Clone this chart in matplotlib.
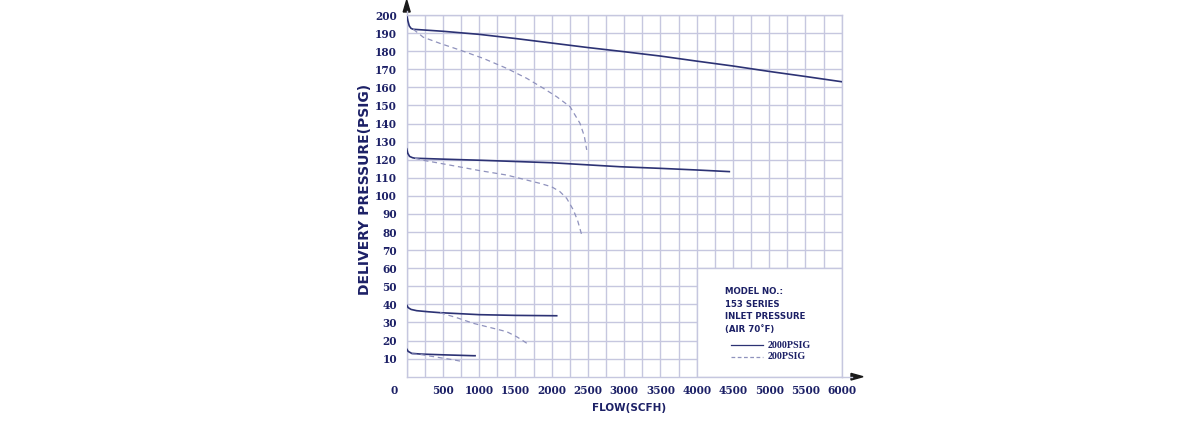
import numpy as np
import matplotlib
matplotlib.use("Agg")
import matplotlib.pyplot as plt
from matplotlib.patches import Polygon, Rectangle

# Data (flow in SCFH, delivery pressure in PSIG)
# solid = 2000 PSIG inlet, dashed = 200 PSIG inlet
s1_x = [0, 15, 35, 60, 91, 500, 1000, 1500, 2000, 2500, 3000, 3500, 4000, 4500, 5000, 5500, 6000]
s1_y = [200, 197, 194, 192.6, 192.1, 191, 189.3, 187, 184.5, 182, 179.7, 177.3, 174.5, 171.8, 168.8, 166, 163.1]
d1_x = [91, 229, 460, 735, 1057, 1379, 1655, 1885, 2069, 2253, 2390, 2450, 2483]
d1_y = [192.1, 187.7, 184.3, 180.6, 176, 170.5, 165, 159.5, 154.8, 149.3, 140.1, 133, 125.4]

s2_x = [0, 15, 40, 80, 114, 500, 1000, 2000, 2942, 3500, 4000, 4450]
s2_y = [126, 123.5, 121.8, 121.1, 120.8, 120.3, 119.7, 118.3, 116.1, 115.2, 114.3, 113.4]
d2_x = [114, 250, 460, 800, 1000, 1379, 1839, 2000, 2114, 2207, 2299, 2360, 2414]
d2_y = [120.8, 119.5, 118, 115.5, 114, 111.5, 106.9, 105, 102.3, 98.6, 92.2, 86, 78.4]

s3_x = [0, 20, 60, 138, 300, 460, 1000, 1500, 2069]
s3_y = [39.6, 38.2, 37.2, 36.5, 35.9, 35.4, 34.3, 33.9, 33.7]
d3_x = [460, 700, 920, 1150, 1379, 1517, 1600, 1678]
d3_y = [35.4, 32.5, 29.5, 27.2, 24.9, 22.1, 20, 17.9]

s4_x = [0, 20, 69, 200, 500, 920, 943]
s4_y = [15.3, 14, 12.9, 12.5, 12.1, 11.6, 11.6]
d4_x = [70, 200, 460, 620, 782]
d4_y = [12.6, 12.2, 10.5, 9.5, 8.3]

x_labels = [500, 1000, 1500, 2000, 2500, 3000, 3500, 4000, 4500, 5000, 5500, 6000]
y_labels = list(range(10, 201, 10))
legend_lines = ["MODEL NO.:", "153 SERIES", "INLET PRESSURE", "(AIR 70\u02daF)"]
legend_series = ["2000PSIG", "200PSIG"]

navy = "#1c2066"
line_c = "#2c3274"
dash_c = "#8f92bd"
grid_c = "#c6c7df"

W, H = 1200, 428
fig = plt.figure(figsize=(W / 100, H / 100), dpi=100)
ax = fig.add_axes([406.7 / W, 1 - 376.7 / H, 435 / W, 361.7 / H])
ax.set_xlim(0, 6000)
ax.set_ylim(0, 200)

ax.set_xticks(x_labels)
ax.set_xticks(np.arange(0, 6001, 250), minor=True)
ax.set_yticks(y_labels)
ax.tick_params(which="both", length=0)
ax.tick_params(axis="x", pad=6)
ax.tick_params(axis="y", pad=7)
ax.grid(which="both", color=grid_c, lw=1.0)
ax.set_axisbelow(True)
for sp in ax.spines.values():
    sp.set_color(grid_c)
    sp.set_linewidth(1.0)

tick_font = dict(family="DejaVu Serif", weight="bold", size=7.6, color=navy)
ax.set_xticklabels([str(v) for v in x_labels], fontdict=tick_font)
ax.set_yticklabels([str(v) for v in y_labels], fontdict=tick_font)
ax.text(-130, -4.5, "0", ha="right", va="top", **tick_font)

# blank legend area
ax.add_patch(Rectangle((4000, 0), 2000, 60, facecolor="white", edgecolor=grid_c,
                       lw=1.0, zorder=1.5))

for xs, ys in [(s1_x, s1_y), (s2_x, s2_y), (s3_x, s3_y), (s4_x, s4_y)]:
    ax.plot(xs, ys, color=line_c, lw=1.2, zorder=3)
for xs, ys in [(d1_x, d1_y), (d2_x, d2_y), (d3_x, d3_y), (d4_x, d4_y)]:
    ax.plot(xs, ys, color=dash_c, lw=0.9, ls=(0, (4, 3)), zorder=3)

# legend text
sans = dict(family="DejaVu Sans", weight="bold", size=6.2, color=navy)
for i, t in enumerate(legend_lines):
    ax.text(4390, 47 - i * 6.9, t, ha="left", va="center", zorder=4, **sans)
ax.plot([4470, 4915], [17.5, 17.5], color=line_c, lw=0.9, zorder=4)
ax.plot([4470, 4915], [10.9, 10.9], color=dash_c, lw=0.9, ls=(0, (3, 2)), zorder=4)
leg_font = dict(family="Liberation Serif", weight="bold", size=7.2, color=navy)
ax.text(4985, 17.5, legend_series[0], ha="left", va="center", zorder=4, **leg_font)
ax.text(4985, 10.9, legend_series[1], ha="left", va="center", zorder=4, **leg_font)

# axis labels
fig.text(365 / W, 1 - 189 / H, "DELIVERY PRESSURE(PSIG)", rotation=90,
         ha="center", va="center", family="DejaVu Sans", weight="bold",
         size=10, color=navy)
fig.text(629 / W, 1 - 408 / H, "FLOW(SCFH)", ha="center", va="center",
         family="DejaVu Sans", weight="bold", size=7.5, color=navy)

# arrows
def px(x, y):
    return (x / W, 1 - y / H)

fig.patches.append(Polygon([px(406.7, 0), px(403.2, 12), px(410.2, 12)], closed=True,
                           transform=fig.transFigure, color="#1a1a1a"))
fig.patches.append(Polygon([px(863, 376.7), px(851, 373.4), px(851, 380)], closed=True,
                           transform=fig.transFigure, color="#1a1a1a"))
fig.lines.append(plt.Line2D([406.7 / W, 406.7 / W], [1 - 15 / H, 1 - 11 / H],
                            transform=fig.transFigure, color=grid_c, lw=1.0))
fig.lines.append(plt.Line2D([841.7 / W, 852 / W], [1 - 376.7 / H, 1 - 376.7 / H],
                            transform=fig.transFigure, color=grid_c, lw=1.0))

fig.savefig("out.png", dpi=100, facecolor="white")
